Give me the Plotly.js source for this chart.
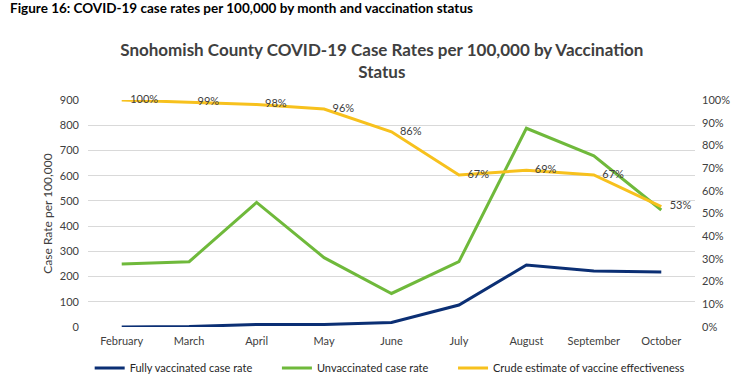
<!DOCTYPE html>
<html>
<head>
<meta charset="utf-8">
<script src="https://cdn.plot.ly/plotly-3.0.1.min.js"></script>
<style>html,body{margin:0;padding:0;background:#fff}#chart{width:740px;height:377px}</style>
</head>
<body>
<div id="chart"></div>
<script>
const months = ["February","March","April","May","June","July","August","September","October"];
const fullyVaccinated = [0, 2, 10, 10, 18, 87, 246, 222, 218];
const unvaccinated = [250, 259, 494, 275, 133, 259, 788, 679, 464];
const effectiveness = [1.00, 0.99, 0.98, 0.96, 0.86, 0.67, 0.69, 0.67, 0.53];
const leftTicks = [0,100,200,300,400,500,600,700,800,900];
const rightTicks = [0,0.1,0.2,0.3,0.4,0.5,0.6,0.7,0.8,0.9,1.0];
const seriesNames = ["Fully vaccinated case rate", "Unvaccinated case rate", "Crude estimate of vaccine effectiveness"];

const FONT = "Lato, 'Open Sans', sans-serif";
const PAD = "\u00a0".repeat(7);
const traces = [
  {x: months, y: fullyVaccinated, name: seriesNames[0] + PAD, type: "scatter", mode: "lines",
   line: {color: "#0b2f74", width: 3}},
  {x: months, y: unvaccinated, name: seriesNames[1] + PAD, type: "scatter", mode: "lines",
   line: {color: "#6fb93b", width: 3}},
  {x: months, y: effectiveness, name: seriesNames[2], type: "scatter", mode: "lines+text",
   yaxis: "y2", line: {color: "#f7c11d", width: 3}, cliponaxis: false,
   texttemplate: "\u00a0\u00a0\u00a0%{y:.0%}", textposition: "middle right",
   textfont: {family: FONT, size: 11, color: "#404040"}}
];
const layout = {
  width: 740, height: 377,
  margin: {l: 88, r: 45, t: 100, b: 50},
  paper_bgcolor: "#fff", plot_bgcolor: "#fff",
  font: {family: FONT, size: 11, color: "#404040"},
  showlegend: true,
  title: {text: "<b>Snohomish County COVID-19 Case Rates per 100,000 by Vaccination<br>Status</b>",
          font: {family: FONT, size: 17, color: "#404040"}, x: 0.516, xanchor: "center",
          yref: "container", y: 1 - 56/377, yanchor: "top"},
  xaxis: {type: "category", range: [-0.5, 8.5], showgrid: false, zeroline: false, showline: false,
          ticks: "", ticklabelstandoff: 6, tickfont: {family: FONT, size: 11, color: "#404040"}},
  yaxis: {range: [0, 900], tickvals: leftTicks, showgrid: true, gridcolor: "#d9d9d9", gridwidth: 1,
          zeroline: false, showline: false, ticks: "", ticklabelstandoff: 8,
          tickfont: {family: FONT, size: 11, color: "#404040"},
          title: {text: "Case Rate per 100,000", font: {family: FONT, size: 12, color: "#404040"}, standoff: 4}},
  yaxis2: {range: [0, 1.0], overlaying: "y", side: "right", tickvals: rightTicks, tickformat: ".0%",
           showgrid: false, zeroline: false, showline: false, ticks: "", ticklabelstandoff: 6,
           tickfont: {family: FONT, size: 11, color: "#404040"}},
  legend: {orientation: "h", x: 0.497, xanchor: "center", yref: "container", y: (377-368)/377, yanchor: "middle",
           font: {family: FONT, size: 11, color: "#262626"}, itemwidth: 30},
  annotations: [
    {text: "<b>Figure 16: COVID-19 case rates per 100,000 by month and vaccination status</b>",
     xref: "paper", yref: "paper", x: (8-88)/607, y: (327-8)/227, xanchor: "left", yanchor: "middle",
     showarrow: false, font: {family: FONT, size: 13.5, color: "#000"}}
  ]
};
Plotly.newPlot("chart", traces, layout, {staticPlot: true, displayModeBar: false});
</script>
</body>
</html>
